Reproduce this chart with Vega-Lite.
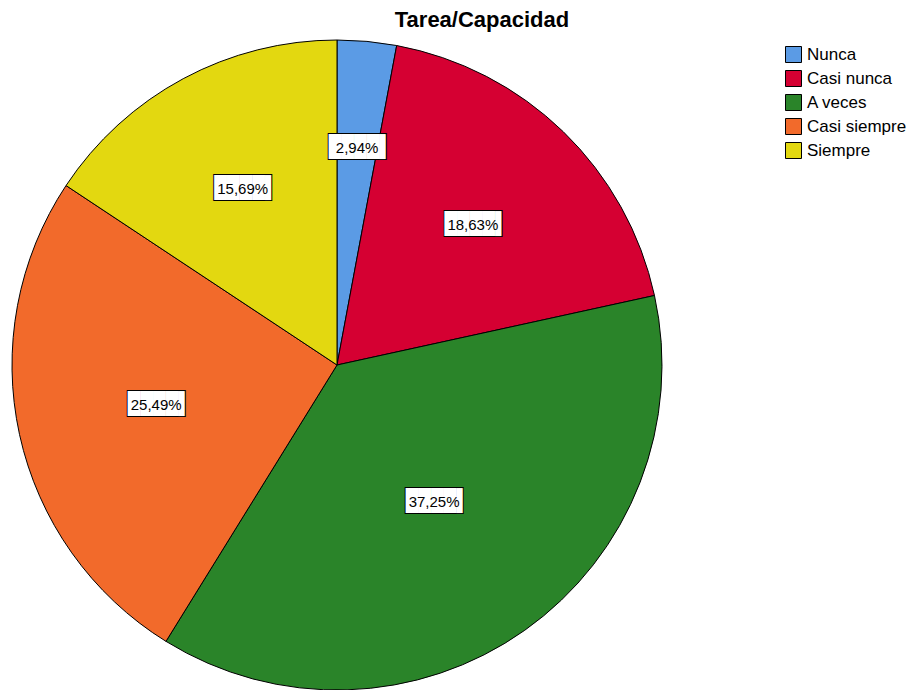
{
  "$schema": "https://vega.github.io/schema/vega-lite/v6.json",
  "width": 650,
  "height": 650,
  "autosize": "none",
  "padding": {"left": 12, "top": 40, "right": 255, "bottom": 0},
  "background": "white",
  "title": {
    "text": "Tarea/Capacidad",
    "anchor": "middle",
    "dx": 145,
    "offset": 6,
    "font": "Liberation Sans",
    "fontSize": 22,
    "fontWeight": "bold",
    "color": "black"
  },
  "data": {
    "values": [
      {"categoria": "Nunca", "porcentaje": 2.94, "orden": 1, "etiqueta": "2,94%"},
      {"categoria": "Casi nunca", "porcentaje": 18.63, "orden": 2, "etiqueta": "18,63%"},
      {"categoria": "A veces", "porcentaje": 37.25, "orden": 3, "etiqueta": "37,25%"},
      {"categoria": "Casi siempre", "porcentaje": 25.49, "orden": 4, "etiqueta": "25,49%"},
      {"categoria": "Siempre", "porcentaje": 15.69, "orden": 5, "etiqueta": "15,69%"}
    ]
  },
  "encoding": {
    "theta": {"field": "porcentaje", "type": "quantitative", "stack": true},
    "order": {"field": "orden", "type": "quantitative", "sort": "ascending"}
  },
  "layer": [
    {
      "mark": {"type": "arc", "stroke": "black", "strokeWidth": 1},
      "encoding": {
        "color": {
          "field": "categoria",
          "type": "nominal",
          "title": null,
          "scale": {
            "domain": ["Nunca", "Casi nunca", "A veces", "Casi siempre", "Siempre"],
            "range": ["#5B9BE5", "#D50032", "#2A8429", "#F26A2B", "#E3D810"]
          },
          "legend": {
            "orient": "none",
            "legendX": 773,
            "legendY": 6,
            "symbolType": "square",
            "symbolSize": 256,
            "symbolStrokeColor": "black",
            "symbolStrokeWidth": 1,
            "labelFont": "Liberation Sans",
            "labelFontSize": 17,
            "labelColor": "black",
            "labelOffset": 5,
            "rowPadding": 3,
            "labelLimit": 300
          }
        }
      }
    },
    {
      "mark": {"type": "text", "font": "DejaVu Sans Mono", "fontSize": 21, "dx": 3.2, "fill": "white", "stroke": "black", "strokeWidth": 2, "text": "████▌"},
      "encoding": {
        "radius": {"field": "porcentaje", "type": "quantitative", "scale": {"type": "linear", "zero": false, "domain": [2.94, 37.25], "range": [218, 168]}}
      }
    },
    {
      "mark": {"type": "text", "font": "DejaVu Sans Mono", "fontSize": 21, "dx": 3.2, "fill": "white", "text": "████▌"},
      "encoding": {
        "radius": {"field": "porcentaje", "type": "quantitative", "scale": {"type": "linear", "zero": false, "domain": [2.94, 37.25], "range": [218, 168]}}
      }
    },
    {
      "mark": {"type": "text", "font": "Liberation Sans", "fontSize": 15, "fill": "black"},
      "encoding": {
        "radius": {"field": "porcentaje", "type": "quantitative", "scale": {"type": "linear", "zero": false, "domain": [2.94, 37.25], "range": [218, 168]}},
        "text": {"field": "etiqueta", "type": "nominal"}
      }
    }
  ]
}
